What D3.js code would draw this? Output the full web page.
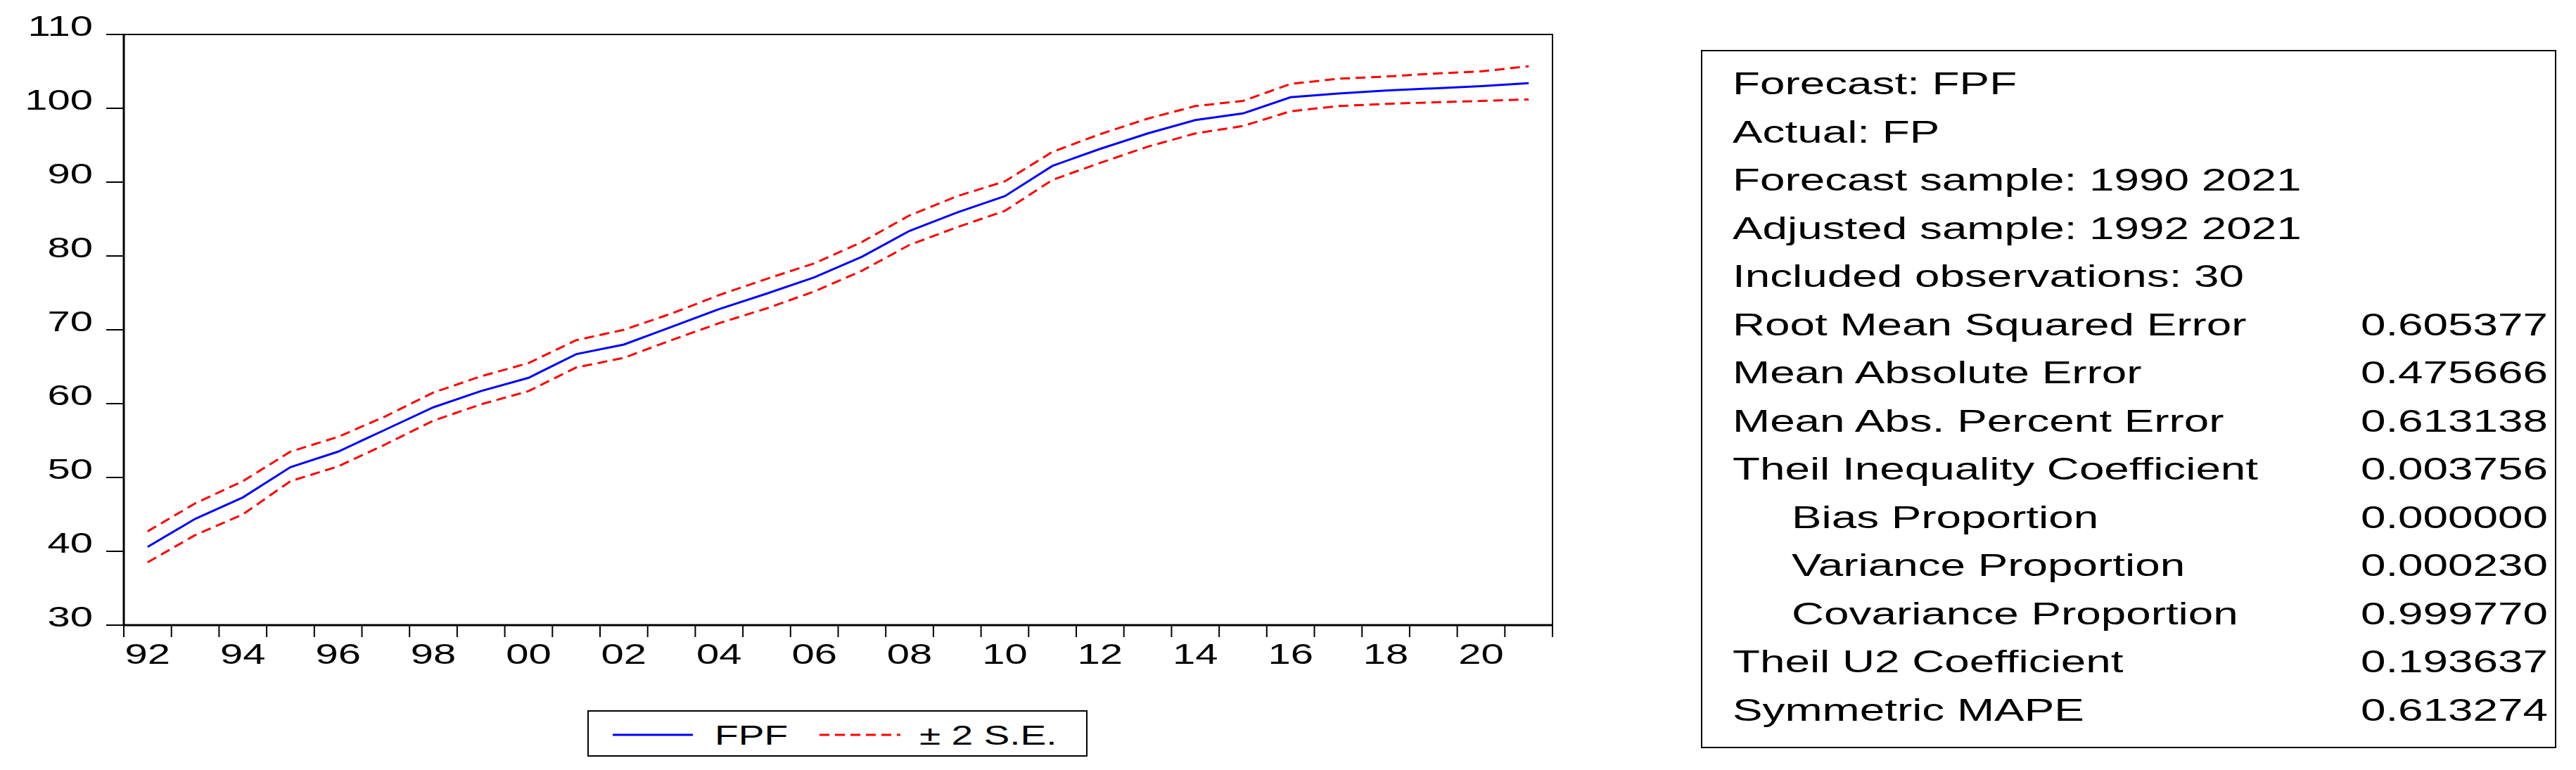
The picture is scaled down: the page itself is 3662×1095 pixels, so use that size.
<!DOCTYPE html>
<html>
<head>
<meta charset="utf-8">
<script src="https://cdn.jsdelivr.net/npm/d3@7"></script>
<style>
  body { margin: 0; background: #fff; }
  text { font-family: "Liberation Sans", Arial, sans-serif; fill: #000; }
</style>
</head>
<body>
<script>
// Forecast data
const years = d3.range(1992, 2022)
const fpf = [40.6, 44.4, 47.3, 51.4, 53.5, 56.5, 59.5, 61.7, 63.5, 66.7, 68.0, 70.4, 72.8, 74.9, 77.1,
  79.9, 83.4, 85.9, 88.1, 92.2, 94.5, 96.6, 98.4, 99.3, 101.5, 102.0, 102.4, 102.7, 103.0, 103.4]
const upper = [42.7, 46.5, 49.5, 53.5, 55.5, 58.3, 61.5, 63.7, 65.5, 68.6, 70.0, 72.2, 74.7, 76.9, 79.0,
  81.9, 85.5, 88.1, 90.1, 94.1, 96.5, 98.6, 100.3, 101.0, 103.3, 104.0, 104.3, 104.7, 105.0, 105.7]
const lower = [38.5, 42.2, 45.0, 49.5, 51.5, 54.5, 57.7, 59.9, 61.7, 64.9, 66.2, 68.6, 70.9, 72.9, 75.2,
  78.0, 81.5, 83.9, 86.1, 90.3, 92.6, 94.8, 96.6, 97.6, 99.6, 100.3, 100.6, 100.8, 101.0, 101.2]
const yTicks = [30, 40, 50, 60, 70, 80, 90, 100, 110]

const statLabels = ['Forecast: FPF', 'Actual: FP', 'Forecast sample: 1990 2021', 'Adjusted sample: 1992 2021',
  'Included observations: 30', 'Root Mean Squared Error', 'Mean Absolute Error', 'Mean Abs. Percent Error',
  'Theil Inequality Coefficient', 'Bias Proportion', 'Variance Proportion', 'Covariance Proportion',
  'Theil U2 Coefficient', 'Symmetric MAPE']
const statValues = ['', '', '', '', '', '0.605377', '0.475666', '0.613138', '0.003756', '0.000000',
  '0.000230', '0.999770', '0.193637', '0.613274']
const statIndent = [0, 0, 0, 0, 0, 0, 0, 0, 0, 1, 1, 1, 0, 0]

const width = 3662, height = 1095
const SX = 1.45 // horizontal stretch of the original text
const plot = { left: 176, right: 2207, top: 49, bottom: 889 }

const svg = d3.select('body').append('svg').attr('width', width).attr('height', height)

// stretched text helper
const txt = (g, x, y, s, size, anchor) => g.append('text')
  .attr('transform', `translate(${x},${y}) scale(${SX},1)`)
  .attr('font-size', size).attr('text-anchor', anchor || 'start').text(s)

const x = d3.scaleBand().domain(years).range([plot.left, plot.right])
const y = d3.scaleLinear().domain([30, 110]).range([plot.bottom, plot.top])

// frame
svg.append('rect')
  .attr('x', plot.left).attr('y', plot.top)
  .attr('width', plot.right - plot.left).attr('height', plot.bottom - plot.top)
  .attr('fill', 'none').attr('stroke', '#000').attr('stroke-width', 2)
svg.append('line').attr('x1', plot.left).attr('x2', plot.left)
  .attr('y1', plot.top).attr('y2', plot.bottom).attr('stroke', '#000').attr('stroke-width', 3)
svg.append('line').attr('x1', plot.left).attr('x2', plot.right)
  .attr('y1', plot.bottom).attr('y2', plot.bottom).attr('stroke', '#000').attr('stroke-width', 3)

// y axis
const yg = svg.append('g')
yTicks.forEach(t => {
  yg.append('line').attr('x1', plot.left - 25).attr('x2', plot.left)
    .attr('y1', y(t)).attr('y2', y(t)).attr('stroke', '#000').attr('stroke-width', 2)
  txt(yg, plot.left - 44, y(t) + 2, t, 40, 'end')
})

// x axis: ticks on period boundaries, labels every 2 years
const xg = svg.append('g')
years.concat([2022]).forEach(yr => {
  const px = yr === 2022 ? plot.right : x(yr)
  xg.append('line').attr('x1', px).attr('x2', px)
    .attr('y1', plot.bottom).attr('y2', plot.bottom + 17).attr('stroke', '#000').attr('stroke-width', 2)
})
years.filter(yr => yr % 2 === 0).forEach(yr => {
  txt(xg, x(yr) + x.bandwidth() / 2, 944, String(yr % 100).padStart(2, '0'), 40, 'middle')
})

// lines
const line = d3.line().x((d, i) => x(years[i]) + x.bandwidth() / 2).y(d => y(d))
svg.append('path').datum(upper).attr('d', line).attr('fill', 'none')
  .attr('stroke', '#ff0000').attr('stroke-width', 3).attr('stroke-dasharray', '14,8')
svg.append('path').datum(lower).attr('d', line).attr('fill', 'none')
  .attr('stroke', '#ff0000').attr('stroke-width', 3).attr('stroke-dasharray', '14,8')
svg.append('path').datum(fpf).attr('d', line).attr('fill', 'none')
  .attr('stroke', '#0000ff').attr('stroke-width', 3)

// legend
const lg = svg.append('g')
lg.append('rect').attr('x', 836).attr('y', 1011).attr('width', 709).attr('height', 64)
  .attr('fill', 'none').attr('stroke', '#000').attr('stroke-width', 2)
lg.append('line').attr('x1', 871).attr('x2', 985).attr('y1', 1045).attr('y2', 1045)
  .attr('stroke', '#0000ff').attr('stroke-width', 3)
txt(lg, 1016, 1059, 'FPF', 38)
lg.append('line').attr('x1', 1165).attr('x2', 1280).attr('y1', 1045).attr('y2', 1045)
  .attr('stroke', '#ff0000').attr('stroke-width', 3).attr('stroke-dasharray', '14,8')
txt(lg, 1307, 1059, '± 2 S.E.', 38)

// statistics box
const sg = svg.append('g')
sg.append('rect').attr('x', 2419).attr('y', 72).attr('width', 1214).attr('height', 991)
  .attr('fill', 'none').attr('stroke', '#000').attr('stroke-width', 2)
statLabels.forEach((s, i) => {
  const by = 134 + i * 68.5
  txt(sg, statIndent[i] ? 2547 : 2463, by, s, 44)
  if (statValues[i]) txt(sg, 3622, by, statValues[i], 44, 'end')
})
</script>
</body>
</html>
